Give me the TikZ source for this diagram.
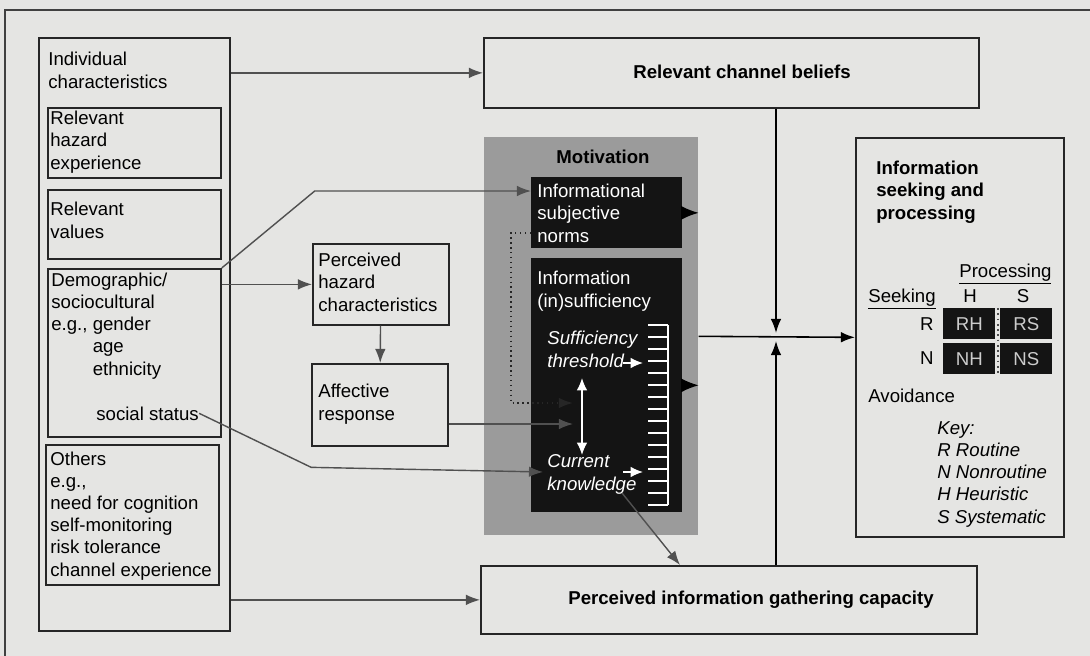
\documentclass[tikz,border=0pt]{standalone}
\usepackage{fontspec}
\setmainfont{Liberation Sans}
\usepackage{tikz}
\usetikzlibrary{positioning}
\usetikzlibrary{calc,arrows.meta}
\definecolor{pagebg}{RGB}{229,229,227}
\definecolor{motivgray}{RGB}{155,155,155}
\definecolor{linegray}{RGB}{80,80,80}

\begin{document}
\begin{tikzpicture}[x=0.02cm, y=-0.02cm,
    font=\fontsize{10.6pt}{12.6pt}\selectfont,
    box/.style={draw=black!85, line width=1pt, anchor=north west, inner sep=0pt},
    blackbox/.style={fill=black!92, anchor=north west, inner sep=0pt},
    cell/.style={fill=black!92, anchor=north west, inner sep=0pt, minimum width=1.04cm, minimum height=0.62cm, text=black!20},
    txt/.style={anchor=base west, align=left, inner sep=0pt},
    bld/.style={font=\fontsize{10.6pt}{12.6pt}\selectfont\bfseries},
    itl/.style={font=\fontsize{10.6pt}{12.6pt}\selectfont\itshape},
    glink/.style={draw=linegray, line width=0.8pt, -{Latex[length=8pt,width=6pt]}},
    blink/.style={draw=black, line width=0.9pt, -{Latex[length=8pt,width=6pt]}},
    wlink/.style={draw=white, line width=0.8pt, -{Latex[length=7pt,width=6pt]}}]
    \fill[pagebg] (0,0) rectangle (1090,656);
    \useasboundingbox (0,0) rectangle (1090,656);
    \draw[line width=1.2pt, black!75] (5,656) -- (5,10) -- (1090,10);

    % left column (base = last line)
    \node[box, minimum width=3.82cm, minimum height=11.86cm] (indiv) at (38,37) {};
    \node[box, minimum width=3.46cm, minimum height=1.40cm] (hazexp) at (47,107) {};
    \node[box, minimum width=3.46cm, minimum height=1.38cm] (values) at (47,189) {};
    \node[box, minimum width=3.46cm, minimum height=3.36cm] (demo) at (47,268) {};
    \node[box, minimum width=3.46cm, minimum height=2.80cm] (others) at (45,444) {};
    \node[txt] (indivt) at (48,88) {Individual\\characteristics};
    \node[txt] at (50,169) {Relevant\\hazard\\experience};
    \node[txt] at (50,238) {Relevant\\values};
    \node[txt] at (51,375) {Demographic/\\sociocultural\\e.g., gender\\\phantom{e.g., }age\\\phantom{e.g., }ethnicity};
    \node[txt] (social) at (96,420) {social status};
    \node[txt] at (50,576) {Others\\e.g.,\\need for cognition\\self-monitoring\\risk tolerance\\channel experience};

    \node[box, minimum width=2.72cm, minimum height=1.62cm] (hazc) at (312,243) {};
    \node[box, minimum width=2.72cm, minimum height=1.64cm] (affr) at (311,363) {};
    \node[txt] at (318,311) {Perceived\\hazard\\characteristics};
    \node[txt] at (318,420) {Affective\\response};

    \node[box, minimum width=9.90cm, minimum height=1.40cm] (chan) at (483,37) {};
    \node[bld] at (742,72) {Relevant channel beliefs};
    \node[box, minimum width=9.92cm, minimum height=1.36cm] (gather) at (480,565) {};
    \node[bld] at (751,600) {Perceived information gathering capacity};

    % motivation panel
    \node[fill=motivgray, anchor=north west, inner sep=0pt, minimum width=4.28cm, minimum height=7.96cm] (motiv) at (484,137) {};
    \node[bld, anchor=base] at (603,163) {Motivation};
    \node[blackbox, minimum width=3.02cm, minimum height=1.42cm] (norms) at (531,177) {};
    \node[blackbox, minimum width=3.02cm, minimum height=5.08cm] (insuff) at (531,258) {};
    \node[txt, text=white] at (537,242) {Informational\\subjective\\norms};
    \node[txt, text=white] at (537,307) {Information\\(in)sufficiency};
    \node[txt, itl, text=white] (suft) at (547,367) {Sufficiency\\threshold};
    \node[txt, itl, text=white] (curk) at (547,490) {Current\\knowledge};
    \draw[white, line width=0.7pt] (668,325) -- (668,505);
    \foreach \k in {0,...,15}
        \draw[white, line width=0.7pt] (648,325+12*\k) -- (668,325+12*\k);

    % seeking and processing
    \node[box, minimum width=4.16cm, minimum height=7.98cm] (seek) at (855,137) {};
    \node[txt, bld] at (876,219) {Information\\seeking and\\processing};
    \node[txt] at (959,277) {\underline{Processing}};
    \node[txt] at (868,302) {\underline{Seeking}};
    \node[anchor=base, inner sep=0pt] at (970,302) {H};
    \node[anchor=base, inner sep=0pt] at (1023,302) {S};
    \node[anchor=base east, inner sep=0pt] at (934,330) {R};
    \node[anchor=base east, inner sep=0pt] at (934,364) {N};
    \node[cell] (rh) at (943,308) {RH};
    \node[cell] (rs) at (1000,308) {RS};
    \node[cell] (nh) at (943,343) {NH};
    \node[cell] (ns) at (1000,343) {NS};
    \draw[dotted, black!70, line width=1pt] ($(rh.north east)+(2,0)$) -- ($(nh.south east)+(2,0)$);
    \node[txt] at (868,402) {Avoidance};
    \node[txt, itl] at (937,523) {Key:\\R Routine\\N Nonroutine\\H Heuristic\\S Systematic};

    \coordinate (affin) at (573,424);
    \coordinate (nrmin) at (573,403);
    \coordinate (knwin) at (543,472);
    \coordinate (kend) at (622,493);
    \coordinate (jn) at (776,337);
    \coordinate (thr) at (623,363);
    \coordinate (knw) at (623,472);
    \coordinate (dbt) at (582,378);
    \coordinate (dbb) at (582,455);

    \draw[glink] (indiv.east |- chan.west) -- (chan.west);
    \draw[glink] (demo.north east) -- ++(93,-77) -- ($(norms.north west)+(0,14)$);
    \draw[glink] (demo.east |- hazc.west) -- (hazc.west);
    \draw[glink] (hazc) -- (affr);
    \draw[glink] (affr.east |- affin) -- (affin);
    \draw[glink, dotted, draw=black!85, line width=1.2pt] ($(norms.south west)+(0,-16)$) -- ++(-20,0) |- (nrmin);
    \draw[glink] (social.east) -- ++(112,54) -- (knwin);
    \draw[glink] (indiv.east |- gather.west) -- (gather.west);
    \draw[glink] (kend) -- ($(gather.north west)+(200,0)$);

    \draw[blink] (chan.south -| jn) -- ($(jn)+(0,-4)$);
    \draw[blink] (gather.north -| jn) -- ($(jn)+(0,4)$);
    \draw[blink] (motiv.east) -- (seek.west);
    \draw[blink, -{Latex[length=10pt,width=8pt]}] (norms.east) -- (norms.east -| motiv.east);
    \draw[blink, -{Latex[length=10pt,width=8pt]}] (insuff.east) -- (insuff.east -| motiv.east);

    \draw[wlink] (thr) -- ++(20,0);
    \draw[wlink] (knw) -- ++(20,0);
    \draw[wlink, {Latex[length=7pt,width=6pt]}-{Latex[length=7pt,width=6pt]}] (dbt) -- (dbb);
\end{tikzpicture}
\end{document}
